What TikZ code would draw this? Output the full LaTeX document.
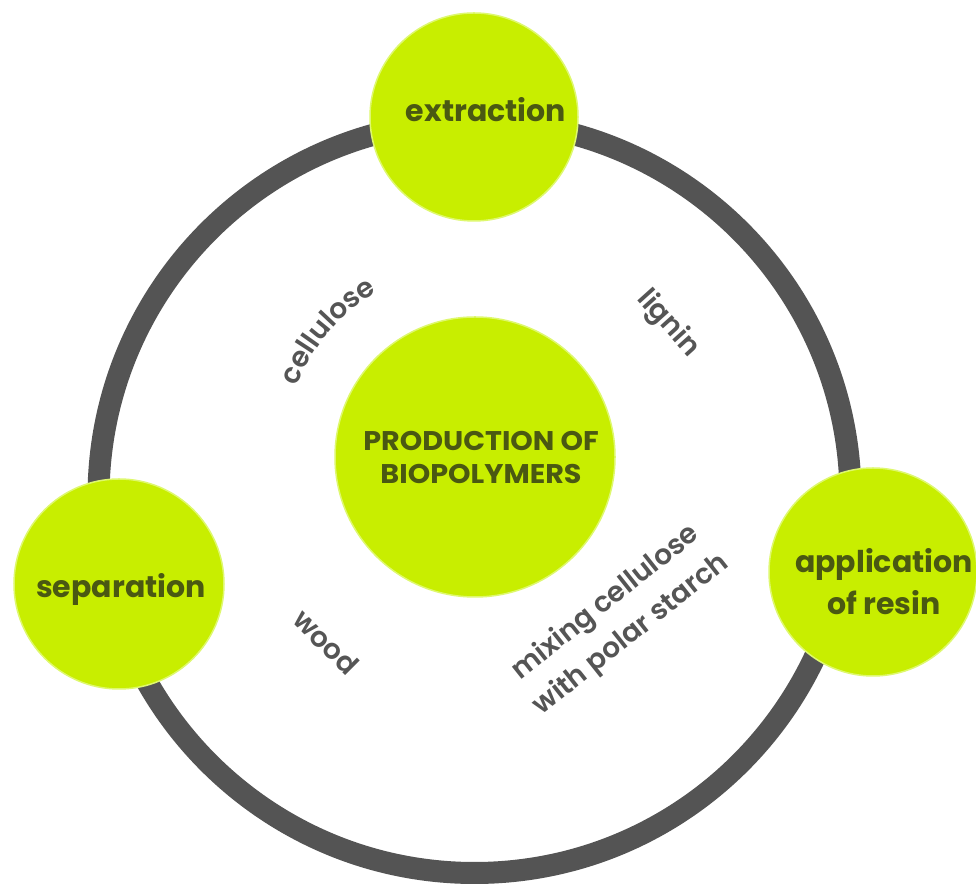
\documentclass[tikz,border=0pt]{standalone}
\usepackage{fontspec}
\setmainfont{Poppins}
\newfontfamily\semifont{Poppins}[UprightFont={* SemiBold}, BoldFont={* Bold}]
\usetikzlibrary{decorations.text}
\definecolor{limefill}{RGB}{200,238,0}
\definecolor{limerim}{RGB}{222,248,110}
\definecolor{ringgrey}{RGB}{84,84,84}
\definecolor{txtgrey}{RGB}{85,85,85}
\definecolor{olivetxt}{RGB}{74,88,18}
\newcommand{\greyfont}{\semifont\fontsize{28}{41}\selectfont}
\begin{document}
\begin{tikzpicture}[x=1pt,y=1pt,
  bubble/.style={circle, fill=limefill, draw=limerim, line width=1.5pt, inner sep=0pt},
  bubbletext/.style={font=\bfseries\fontsize{30}{42}\selectfont, text=olivetxt, align=center, inner sep=0pt},
  centertext/.style={font=\bfseries\fontsize{27}{33}\selectfont, text=olivetxt, align=center, inner sep=0pt},
  greytext/.style={font=\greyfont, text=txtgrey, align=center, inner sep=0pt},
  ringstyle/.style={circle, draw=ringgrey, line width=22pt, inner sep=0pt}]
\useasboundingbox (0,0) rectangle (976,885);
\fill[white] (0,0) rectangle (976,885);
% ring
\node[ringstyle, minimum size=752pt] (ring) at (474.5,388) {};
% outer bubbles
\node[bubble, minimum size=208pt] (extraction) at (474,768) {};
\node[bubbletext, anchor=base] (extractionlabel) at (486,763) {extraction};
\node[bubble, minimum size=210pt] (separation) at (119,301) {};
\node[bubbletext, anchor=base] (separationlabel) at (121,287) {separation};
\node[bubble, minimum size=208pt] (application) at (873,313) {};
\node[bubbletext] (applicationlabel) at (884,303) {application\\of resin};
% centre bubble
\node[bubble, minimum size=280pt] (production) at (475,428) {};
\node[centertext] (productionlabel) at (481,427.5) {\scalebox{1.06}[1]{PRODUCTION OF}\\\scalebox{1.06}[1]{BIOPOLYMERS}};
% grey labels
\path[decorate, decoration={text along path, text={|\greyfont|cellulose}, text align=center, text color=txtgrey}]
  ([shift={(475,428)}]179.5:192) arc[start angle=179.5, end angle=99.5, radius=192];
\node[greytext, rotate=-48] (lignin) at (668,561) {lignin};
\node[greytext, rotate=-45] (wood) at (326,243) {wood};
\node[greytext, rotate=38.5] (mixing) at (618.5,266) {mixing cellulose\\with polar starch};
\end{tikzpicture}
\end{document}
